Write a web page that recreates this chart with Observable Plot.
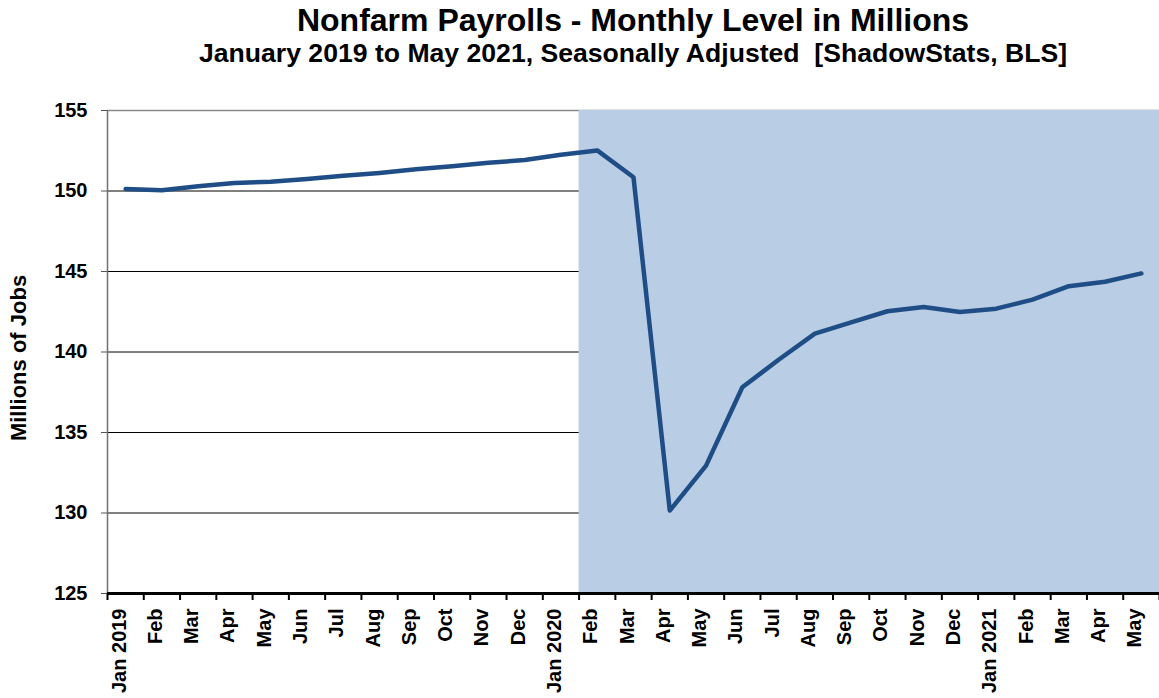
<!DOCTYPE html>
<html>
<head>
<meta charset="utf-8">
<script src="https://cdn.jsdelivr.net/npm/d3@7"></script>
<script src="https://cdn.jsdelivr.net/npm/@observablehq/plot@0.6"></script>
<style>
  html, body { margin: 0; padding: 0; background: #fff; }
  body { width: 1159px; height: 698px; position: relative; overflow: hidden;
         font-family: "Liberation Sans", Arial, sans-serif; }
  #title { position: absolute; left: 107px; width: 1052px; top: 2px; text-align: center;
           font-size: 32px; line-height: 36px; font-weight: bold; color: #000; white-space: pre; }
  #subtitle { position: absolute; left: 107px; width: 1052px; top: 38px; text-align: center;
              font-size: 26.6px; line-height: 30px; font-weight: bold; color: #000; white-space: pre; }
  #chart { position: absolute; left: 0; top: 90px; }
</style>
</head>
<body>
<div id="title">Nonfarm Payrolls - Monthly Level in Millions</div>
<div id="subtitle">January 2019 to May 2021, Seasonally Adjusted  [ShadowStats, BLS]</div>
<div id="chart"></div>
<script>
// Month labels (Jan 2019 .. May 2021)
const months = ["Jan 2019","Feb","Mar","Apr","May","Jun","Jul","Aug","Sep","Oct","Nov","Dec",
                "Jan 2020","Feb","Mar","Apr","May","Jun","Jul","Aug","Sep","Oct","Nov","Dec",
                "Jan 2021","Feb","Mar","Apr","May"];
// Nonfarm payrolls, millions
const payrolls = [150.13,150.04,150.30,150.50,150.58,150.75,150.94,151.12,151.35,151.54,151.75,151.92,
                  152.25,152.52,150.85,130.15,132.94,137.81,139.52,141.14,141.84,142.53,142.80,142.48,
                  142.69,143.25,144.09,144.36,144.88];
const yTicks = [125, 130, 135, 140, 145, 150, 155];
const gridValues = [130, 135, 140, 145, 150];
const shadeStartIndex = 13; // Feb 2020 onward shaded

const data = months.map((m, i) => ({i, label: m, value: payrolls[i]}));
const font = "Liberation Sans, Arial, sans-serif";

const chart = Plot.plot({
  width: 1159,
  height: 608,
  marginTop: 20,
  marginLeft: 107,
  marginRight: 0,
  marginBottom: 105,
  style: {fontFamily: font, background: "#fff", overflow: "visible"},
  x: {domain: [0, months.length], axis: null},
  y: {domain: [yTicks[0], yTicks[yTicks.length - 1]], axis: null},
  marks: [
    Plot.ruleY(gridValues, {stroke: "#000", strokeWidth: 1}),
    Plot.ruleY([yTicks[yTicks.length - 1]], {stroke: "#8a8a8a", strokeWidth: 1.5}),
    Plot.rect([{x1: shadeStartIndex, x2: months.length}], {
      x1: "x1", x2: "x2", y1: yTicks[0], y2: yTicks[yTicks.length - 1], fill: "#b9cde5"
    }),
    Plot.ruleX([0], {stroke: "#707070", strokeWidth: 1.5}),
    Plot.axisY({
      ticks: yTicks, tickSize: 6, tickPadding: 14, label: null,
      fontSize: 20, fontWeight: "bold", stroke: "#555", color: "#000"
    }),
    Plot.line(data, {
      x: d => d.i + 0.5, y: "value",
      stroke: "#1f4e86", strokeWidth: 4.5, strokeLinejoin: "round", strokeLinecap: "round"
    }),
    Plot.axisX({
      ticks: d3.range(months.length + 1), tickSize: 7, tickFormat: () => "",
      stroke: "#000", strokeWidth: 2, label: null
    }),
    Plot.ruleY([yTicks[0]], {stroke: "#000", strokeWidth: 3}),
    Plot.text(data, {
      x: d => d.i + 0.5, frameAnchor: "bottom", text: "label",
      rotate: -90, textAnchor: "end", dy: 15,
      fontSize: 20, fontWeight: "bold", fill: "#000"
    }),
    Plot.text(["Millions of Jobs"], {
      frameAnchor: "left", textAnchor: "middle", dx: -89, dy: 6, rotate: -90,
      fontSize: 22, fontWeight: "bold", fill: "#000"
    })
  ]
});
document.getElementById("chart").appendChild(chart);
</script>
</body>
</html>
